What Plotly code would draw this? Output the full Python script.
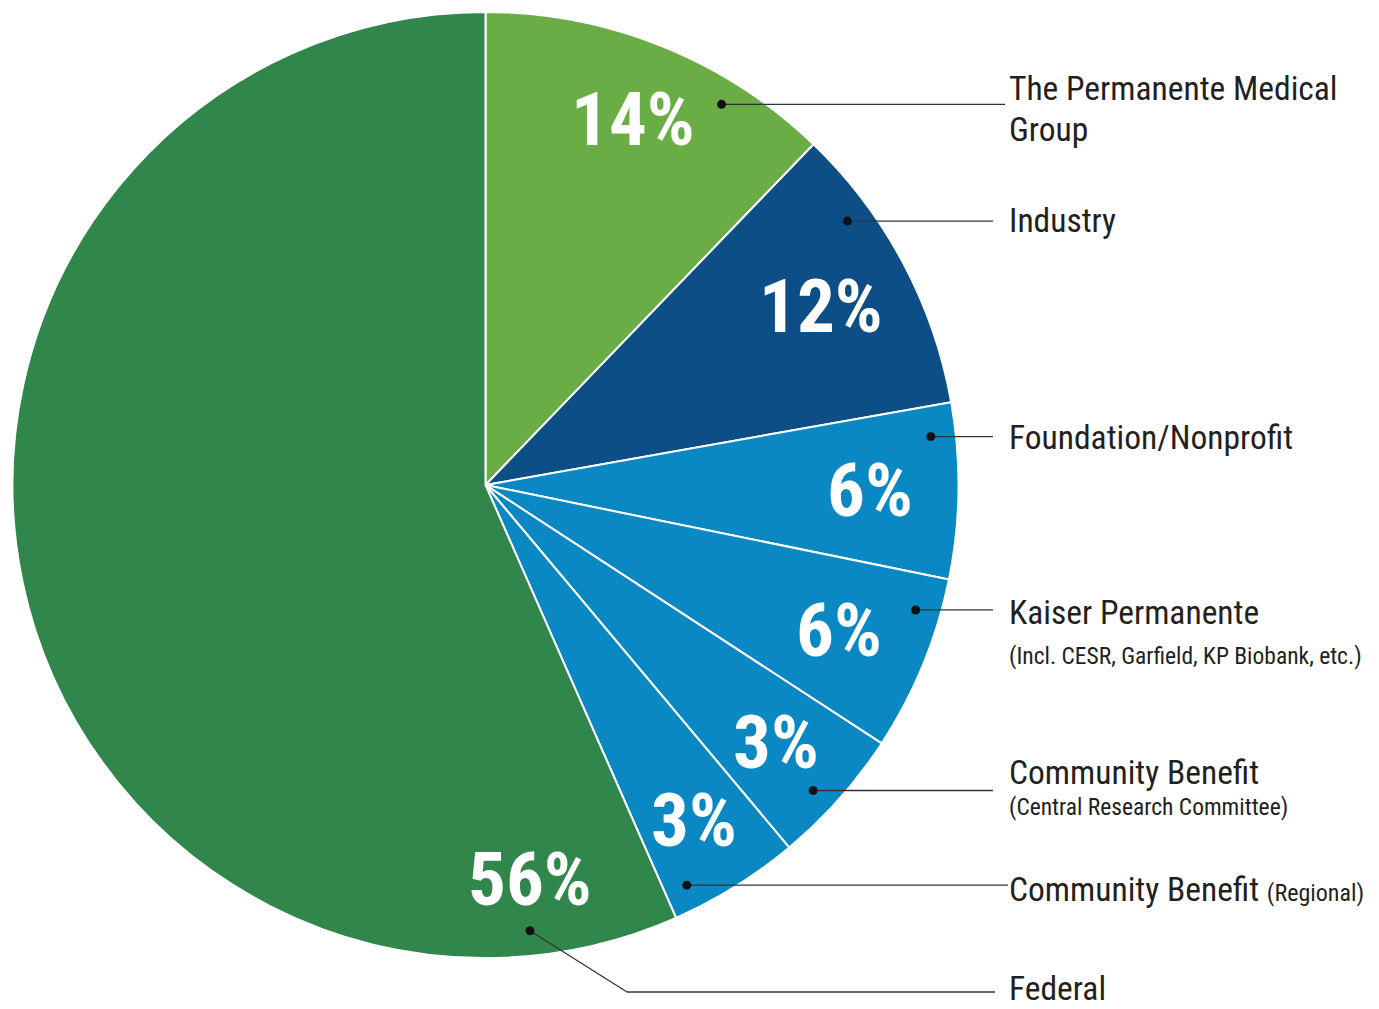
import math
import plotly.graph_objects as go

# ---------------- data ----------------
categories = [
    "The Permanente Medical Group",
    "Industry",
    "Foundation/Nonprofit",
    "Kaiser Permanente",
    "Community Benefit (Central Research Committee)",
    "Community Benefit (Regional)",
    "Federal",
]
slice_values = [12.2, 10.0, 6.0, 6.0, 4.7, 4.5, 56.6]      # slice sizes as drawn
pct_labels = ["14%", "12%", "6%", "6%", "3%", "3%", "56%"]  # printed labels
label_titles = [
    ["The Permanente Medical", "Group"],
    ["Industry"],
    ["Foundation/Nonprofit"],
    ["Kaiser Permanente"],
    ["Community Benefit"],
    ["Community Benefit <span style='font-size:24px'>(Regional)</span>"],
    ["Federal"],
]
label_subtitles = [
    None, None, None,
    "(Incl. CESR, Garfield, KP Biobank, etc.)",
    "(Central Research Committee)",
    None, None,
]

# ---------------- style / layout ----------------
colors = ["#6aad45", "#0d4e86", "#0a88c3", "#0a88c3", "#0a88c3", "#0a88c3", "#30864b"]
W, H = 1379, 1009
CX, CY, R = 485.5, 485.0, 473.0
FONT = "Roboto Condensed, Roboto, Liberation Sans, sans-serif"
TEXT_COLOR = "#231f20"
TITLE_SIZE = 33.5
SUB_SIZE = 23.5
PCT_SIZE = 75

pct_radius = [0.835, 0.803, 0.814, 0.808, 0.820, 0.835, 0.839]
pct_pos_in_slice = [0.5, 0.5, 0.5, 0.5, 0.5, 0.5, 0.085]
dot_angles = [31.8, 53.9, 83.8, 106.2, 133.0, 153.3, 174.3]
dot_radius = 0.947
label_x = 1007
title_y = [[88, 129], [220], [437], [612], [772], [889], [988]]
subtitle_y = [None, None, None, 656, 807, None, None]
line_end_x = [1005, 993, 993, 993, 993, 1008, 995]
federal_kink = (627, 992)
DOT_R = 4.5


def polar(theta_deg, r):
    t = math.radians(theta_deg)
    return CX + r * math.sin(t), CY - r * math.cos(t)


fig = go.Figure()

fig.add_trace(go.Pie(
    labels=categories,
    values=slice_values,
    sort=False,
    direction="clockwise",
    rotation=0,
    marker=dict(colors=colors, line=dict(color="white", width=2)),
    textinfo="none",
    hoverinfo="skip",
    showlegend=False,
    domain=dict(x=[(CX - R) / W, (CX + R) / W],
                y=[1 - (CY + R) / H, 1 - (CY - R) / H]),
))

total = sum(slice_values)
cum = 0.0
annotations = []
shapes = []
LINE = dict(color="#333333", width=1.3)
for i, v in enumerate(slice_values):
    a0 = cum / total * 360
    a1 = (cum + v) / total * 360
    cum += v
    ang = a0 + (a1 - a0) * pct_pos_in_slice[i]
    px, py = polar(ang, pct_radius[i] * R)
    annotations.append(dict(
        x=px, y=py, xref="x", yref="y", text=pct_labels[i], showarrow=False,
        xanchor="center", yanchor="middle",
        font=dict(family=FONT, size=PCT_SIZE, color="white", weight="bold"),
    ))
    dx, dy = polar(dot_angles[i], dot_radius * R)
    if i == len(slice_values) - 1:
        kx, ky = federal_kink
        shapes.append(dict(type="line", xref="x", yref="y", x0=dx, y0=dy, x1=kx, y1=ky, line=LINE))
        shapes.append(dict(type="line", xref="x", yref="y", x0=kx, y0=ky, x1=line_end_x[i], y1=ky, line=LINE))
    else:
        shapes.append(dict(type="line", xref="x", yref="y", x0=dx, y0=dy, x1=line_end_x[i], y1=dy, line=LINE))
    shapes.append(dict(type="circle", xref="x", yref="y",
                       x0=dx - DOT_R, x1=dx + DOT_R, y0=dy - DOT_R, y1=dy + DOT_R,
                       fillcolor="#111111", line=dict(width=0)))
    for txt, ty in zip(label_titles[i], title_y[i]):
        annotations.append(dict(
            x=label_x, y=ty, xref="x", yref="y", text=txt, showarrow=False,
            xanchor="left", yanchor="middle",
            font=dict(family=FONT, size=TITLE_SIZE, color=TEXT_COLOR),
        ))
    if label_subtitles[i]:
        annotations.append(dict(
            x=label_x, y=subtitle_y[i], xref="x", yref="y", text=label_subtitles[i],
            showarrow=False, xanchor="left", yanchor="middle",
            font=dict(family=FONT, size=SUB_SIZE, color=TEXT_COLOR),
        ))

fig.update_layout(
    width=W, height=H,
    margin=dict(l=0, r=0, t=0, b=0),
    paper_bgcolor="white", plot_bgcolor="rgba(0,0,0,0)",
    xaxis=dict(range=[0, W], visible=False, fixedrange=True, domain=[0, 1]),
    yaxis=dict(range=[H, 0], visible=False, fixedrange=True, domain=[0, 1]),
    annotations=annotations,
    shapes=shapes,
    showlegend=False,
)

fig.write_html("out.html")
